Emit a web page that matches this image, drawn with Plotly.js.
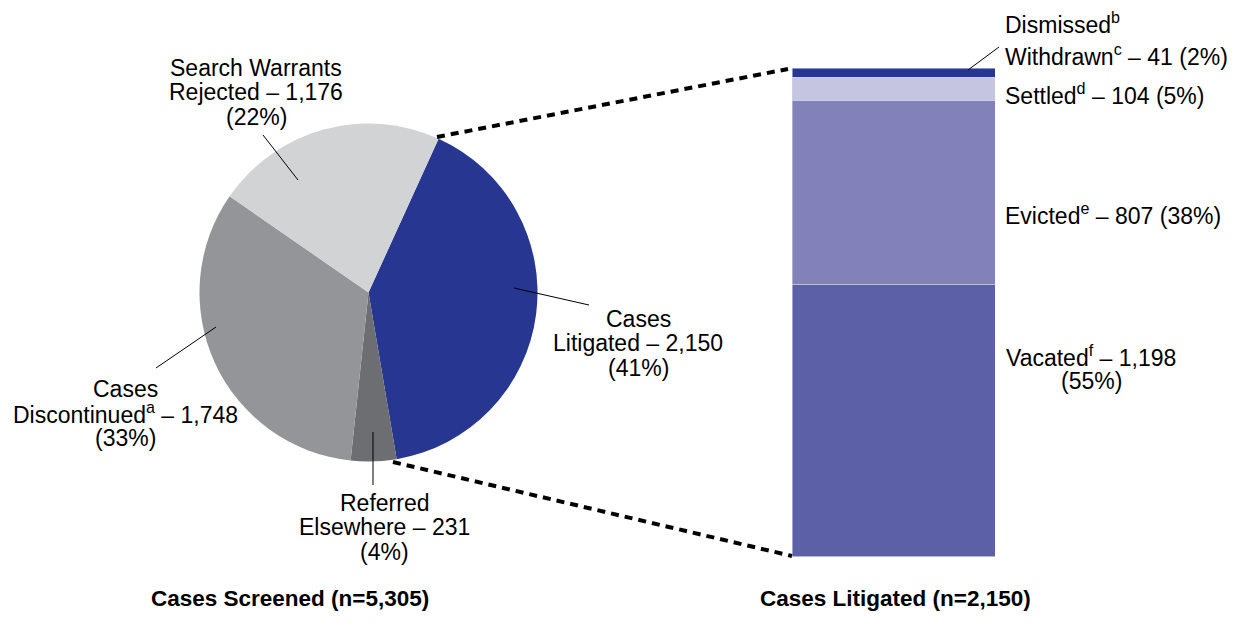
<!DOCTYPE html>
<html>
<head>
<meta charset="utf-8">
<script src="https://cdn.plot.ly/plotly-3.0.1.min.js"></script>
<style>html,body{margin:0;padding:0;background:#fff;}#chart{width:1233px;height:639px;}</style>
</head>
<body>
<div id="chart"></div>
<script>
// ---- data ----
const pieCategories = ["Cases Litigated", "Referred Elsewhere", "Cases Discontinued", "Search Warrants Rejected"];
const pieValues = [2150, 231, 1748, 1176];
const piePercents = [41, 4, 33, 22];
const pieNameLines = [["Cases", "Litigated"], ["Referred", "Elsewhere"], ["Cases", "Discontinued<sup>a</sup>"], ["Search Warrants", "Rejected"]];
const pieColors = ["#263691", "#6d6e71", "#939598", "#d1d3d4"];

const barCategories = ["Vacated", "Evicted", "Settled", "Dismissed/Withdrawn"];
const barValues = [1198, 807, 104, 41];
const barPercents = [55, 38, 5, 2];
const barColors = ["#5c60a7", "#8281ba", "#c5c5e1", "#263691"];

const pieTitle = "Cases Screened (n=5,305)";
const barTitle = "Cases Litigated (n=2,150)";

// ---- helpers ----
const W = 1233, H = 639;
const px = x => x / W;
const py = y => 1 - y / H;
const fmt = v => v.toLocaleString("en-US");
const FONT = "Liberation Sans, Arial, Helvetica, sans-serif";
const FS = 23;

const traces = [{
  type: "pie",
  labels: pieCategories,
  values: pieValues,
  sort: false,
  direction: "clockwise",
  rotation: 24.5,
  textinfo: "none",
  hoverinfo: "none",
  marker: {colors: pieColors, line: {width: 0}},
  domain: {x: [px(199.5), px(537.5)], y: [py(461.5), py(123.5)]},
  showlegend: false
}];

barCategories.forEach((c, i) => {
  traces.push({
    type: "bar",
    x: [0],
    y: [barValues[i]],
    name: c,
    width: 1,
    xaxis: "x",
    yaxis: "y",
    marker: {color: barColors[i], line: {color: "#cfd0ea", width: 0.6}},
    hoverinfo: "none",
    showlegend: false
  });
});

const annotations = [];
function addLine(text, x, y, align, size, bold) {
  annotations.push({
    text: bold ? "<b>" + text + "</b>" : text,
    x: px(x), y: py(y), xref: "paper", yref: "paper",
    xanchor: align, yanchor: "middle",
    showarrow: false,
    font: {family: FONT, size: size || FS, color: "#000"}
  });
}
function pieLines(i) {
  return [pieNameLines[i][0], pieNameLines[i][1] + " – " + fmt(pieValues[i]), "(" + piePercents[i] + "%)"];
}
// pie labels: [centerX, firstLineCenterY]
const pieLabelPos = [[638, 318.5], [384, 502.5], [125, 388.5], [256, 68]];
pieLabelPos.forEach((p, i) => {
  pieLines(i).forEach((t, k) => addLine(t, p[0], p[1] + k * 24.5, "center"));
});

// bar labels
addLine("Dismissed<sup>b</sup>", 1003, 23, "left");
addLine("Withdrawn<sup>c</sup> – " + fmt(barValues[3]) + " (" + barPercents[3] + "%)", 1003, 55, "left");
addLine("Settled<sup>d</sup> – " + fmt(barValues[2]) + " (" + barPercents[2] + "%)", 1003, 94, "left");
addLine("Evicted<sup>e</sup> – " + fmt(barValues[1]) + " (" + barPercents[1] + "%)", 1003, 214, "left");
addLine("Vacated<sup>f</sup> – " + fmt(barValues[0]), 1091, 356, "center");
addLine("(" + barPercents[0] + "%)", 1091, 381, "center");

// titles
addLine(pieTitle, 290, 598, "center", 22.5, true);
addLine(barTitle, 895, 598, "center", 22.5, true);

function seg(x0, y0, x1, y1, extra) {
  return Object.assign({type: "line", xref: "paper", yref: "paper",
    x0: px(x0), y0: py(y0), x1: px(x1), y1: py(y1),
    line: {color: "#000", width: 1}}, extra || {});
}
const shapes = [
  // dashed connectors
  seg(437, 137, 788, 69, {line: {color: "#000", width: 4, dash: "8px,6px"}}),
  seg(393, 462, 792, 556, {line: {color: "#000", width: 4, dash: "8px,6px"}}),
  // leader lines
  seg(263, 135, 298, 180),
  seg(514, 288, 589, 305),
  seg(156, 368, 216, 327),
  seg(373, 432, 373, 485),
  seg(968, 70, 999, 47)
];

const layout = {
  width: W, height: H,
  margin: {l: 0, r: 0, t: 0, b: 0},
  paper_bgcolor: "#fff", plot_bgcolor: "rgba(0,0,0,0)",
  barmode: "stack",
  bargap: 0,
  showlegend: false,
  hovermode: false,
  font: {family: FONT, size: FS, color: "#000"},
  xaxis: {domain: [px(792), px(995)], range: [-0.5, 0.5], visible: false, fixedrange: true},
  yaxis: {domain: [py(556.5), py(68)], range: [0, 2150], visible: false, fixedrange: true},
  annotations: annotations,
  shapes: shapes
};

Plotly.newPlot("chart", traces, layout, {displayModeBar: false, staticPlot: true});
</script>
</body>
</html>
